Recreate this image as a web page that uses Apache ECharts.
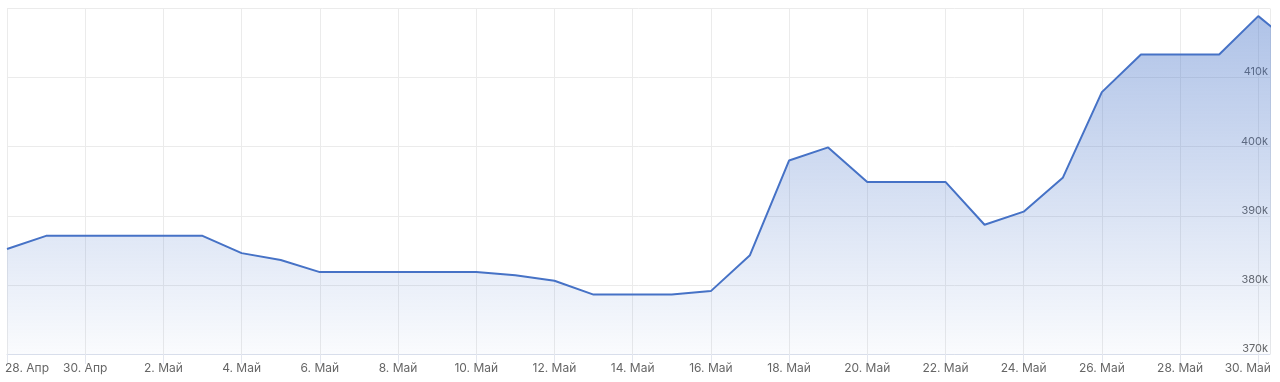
<!DOCTYPE html>
<html>
<head>
<meta charset="utf-8">
<script src="https://cdn.jsdelivr.net/npm/echarts@6/dist/echarts.min.js"></script>
<style>
html,body{margin:0;padding:0;background:#fff;}
#c{width:1280px;height:382px;}
</style>
</head>
<body>
<div id="c"></div>
<script>
// Day labels, one per day starting 28 Apr
const dayLabels = [
  "28. Апр","29. Апр","30. Апр","1. Май","2. Май","3. Май","4. Май","5. Май","6. Май","7. Май",
  "8. Май","9. Май","10. Май","11. Май","12. Май","13. Май","14. Май","15. Май","16. Май","17. Май",
  "18. Май","19. Май","20. Май","21. Май","22. Май","23. Май","24. Май","25. Май","26. Май","27. Май",
  "28. Май","29. Май","30. Май","31. Май"
];
// Daily values
const values = [
  385200, 387100, 387100, 387100, 387100, 387100, 384600, 383600, 381850, 381850,
  381850, 381850, 381850, 381400, 380600, 378600, 378600, 378600, 379100, 384300,
  398000, 399900, 394900, 394900, 394900, 388700, 390600, 395500, 407900, 413350,
  413350, 413350, 418900, 414300
];
const yTicks = { min: 370000, max: 420000, step: 10000 };
const xView = { min: 0, max: 32.3, step: 2 };

const seriesData = values.map((v, i) => [i, v]);

const chart = echarts.init(document.getElementById('c'), null, { renderer: 'canvas' });
const lastTick = 32;
chart.setOption({
  animation: false,
  grid: { left: 7, right: 10, top: 8.5, bottom: 28, containLabel: false },
  xAxis: {
    type: 'value',
    min: xView.min,
    max: xView.max,
    interval: xView.step,
    axisLine: { show: true, lineStyle: { color: '#d8deeb', width: 1 } },
    axisTick: { show: true, length: 10, lineStyle: { color: '#e3e6ee' } },
    splitLine: { show: true, lineStyle: { color: '#ebebeb', width: 1 } },
    axisLabel: {
      show: true,
      margin: 8,
      fontFamily: 'Inter',
      fontSize: 12,
      color: '#666666',
      showMaxLabel: false,
      formatter: function (v) {
        if (v % 2 !== 0) return '';
        const t = dayLabels[v] || '';
        if (v === 0) return '{first|' + t + '}';
        if (v === lastTick) return '{last|' + t + '}';
        return t;
      },
      rich: {
        first: { fontFamily: 'Inter', fontSize: 12, color: '#666666', padding: [0, 0, 0, 40] },
        last: { fontFamily: 'Inter', fontSize: 12, color: '#666666', padding: [0, 21, 0, 0] }
      }
    }
  },
  yAxis: {
    type: 'value',
    position: 'right',
    min: yTicks.min,
    max: yTicks.max,
    interval: yTicks.step,
    axisLine: { show: false },
    axisTick: { show: false },
    splitLine: { show: true, lineStyle: { color: '#ebebeb', width: 1 } },
    axisLabel: {
      inside: true,
      margin: 2,
      showMaxLabel: false,
      verticalAlign: 'bottom',
      fontFamily: 'Inter',
      fontSize: 11,
      color: '#666666',
      formatter: function (v) { return (v / 1000) + 'k'; }
    }
  },
  series: [{
    type: 'line',
    data: seriesData,
    clip: true,
    symbol: 'none',
    smooth: false,
    lineStyle: { color: '#4672c6', width: 2 },
    areaStyle: {
      color: new echarts.graphic.LinearGradient(0, 0, 0, 1, [
        { offset: 0, color: 'rgba(70,115,200,0.62)' },
        { offset: 1, color: 'rgba(70,115,200,0.04)' }
      ])
    },
    z: 1
  }]
});
</script>
</body>
</html>
